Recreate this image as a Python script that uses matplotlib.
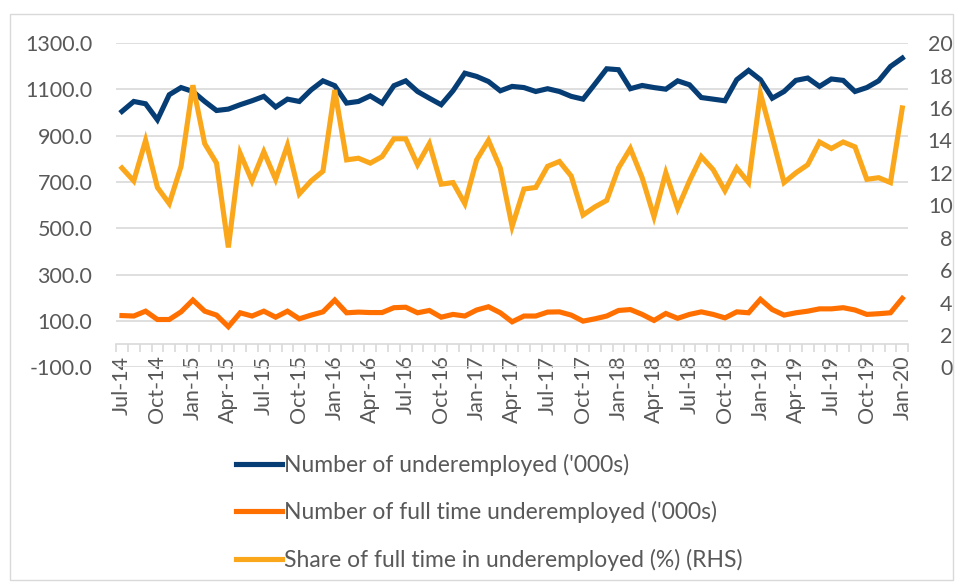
import matplotlib
matplotlib.use("Agg")
import matplotlib.pyplot as plt
from matplotlib.patches import Rectangle
from matplotlib.ticker import FormatStrFormatter, FixedLocator
import numpy as np
import pandas as pd

# meses Jul-14 .. Jan-20
months = pd.date_range("2014-07-01", "2020-01-01", freq="MS")
month_labels = [m.strftime("%b-%y") for m in months]

# Number of underemployed ('000s)
underemployed = [
    1005, 1048, 1038, 969, 1077, 1108, 1091, 1048, 1009, 1015,
    1034, 1051, 1070, 1024, 1058, 1048, 1098, 1137, 1116, 1041,
    1048, 1072, 1041, 1116, 1137, 1091, 1062, 1034, 1094, 1170,
    1156, 1134, 1094, 1113, 1108, 1091, 1103, 1091, 1070, 1058,
    1123, 1189, 1185, 1103, 1117, 1108, 1101, 1137, 1120, 1065,
    1058, 1051, 1142, 1182, 1142, 1062, 1091, 1139, 1149, 1113,
    1145, 1139, 1091, 1108, 1137, 1199, 1235,
]

# Number of full time underemployed ('000s)
full_time = [
    124, 122, 143, 107, 107, 140, 191, 143, 126, 76,
    136, 122, 143, 117, 143, 110, 126, 140, 191, 136,
    139, 137, 137, 158, 160, 136, 146, 117, 129, 122,
    148, 162, 136, 97, 122, 122, 139, 140, 126, 100,
    110, 122, 146, 150, 129, 103, 133, 112, 129, 140,
    129, 114, 140, 136, 194, 150, 126, 136, 143, 153,
    153, 158, 148, 129, 132, 136, 198,
]

# Share of full time in underemployed (%) (RHS)
share_ft = [
    12.3, 11.5, 14.0, 11.1, 10.1, 12.4, 17.4, 13.8, 12.6, 7.4,
    13.2, 11.5, 13.3, 11.6, 13.7, 10.7, 11.5, 12.1, 17.1, 12.8,
    12.9, 12.6, 13.0, 14.1, 14.1, 12.5, 13.8, 11.3, 11.4, 10.1,
    12.8, 14.0, 12.3, 8.7, 11.0, 11.1, 12.4, 12.7, 11.8, 9.4,
    9.9, 10.3, 12.3, 13.5, 11.7, 9.3, 12.0, 9.8, 11.5, 13.0,
    12.2, 10.9, 12.3, 11.4, 16.9, 14.2, 11.4, 12.0, 12.5, 13.9,
    13.5, 13.9, 13.6, 11.6, 11.7, 11.4, 16.0,
]

labels = [
    "Number of underemployed ('000s)",
    "Number of full time underemployed ('000s)",
    "Share of full time in underemployed (%) (RHS)",
]

c_blue = "#063D74"
c_orange = "#FF7000"
c_yellow = "#FBA71B"
c_grid = "#D9D9D9"
c_text = "#595959"

plt.rcParams["font.family"] = ["Lato", "DejaVu Sans"]

fig = plt.figure(figsize=(9.55, 5.82), dpi=100)
ax = fig.add_axes([0.1215, 0.3686, 0.8295, 0.5574])
x = np.arange(len(months))

ax.plot(x, underemployed, color=c_blue, lw=3.7, label=labels[0], solid_joinstyle="miter", zorder=3)
ax.plot(x, full_time, color=c_orange, lw=3.7, label=labels[1], solid_joinstyle="miter", zorder=3)

ax.set_xlim(-0.5, len(x) - 0.5)
ax.set_ylim(-100, 1300)
ax.set_yticks(np.arange(-100, 1301, 200))
ax.yaxis.set_major_formatter(FormatStrFormatter("%.1f"))
ax.grid(axis="y", color=c_grid, lw=1.2, zorder=0)
ax.set_axisbelow(True)

for s in ["top", "right", "left"]:
    ax.spines[s].set_visible(False)
ax.spines["bottom"].set_position(("data", 0))
ax.spines["bottom"].set_color(c_grid)
ax.spines["bottom"].set_linewidth(1.2)

# etiquetas cada 3 meses, marcas entre categorias
ax.set_xticks(x[::3])
ax.set_xticklabels(month_labels[::3], rotation=90)
ax.xaxis.set_minor_locator(FixedLocator(np.arange(-0.5, len(x), 1.0)))
ax.tick_params(axis="x", which="major", length=0, pad=8, labelsize=15.5, labelcolor=c_text)
ax.tick_params(axis="x", which="minor", length=6, width=1.2, color=c_grid, direction="out")
ax.tick_params(axis="y", length=0, pad=17, labelsize=15.5, labelcolor=c_text)

ax2 = ax.twinx()
ax2.plot(x, share_ft, color=c_yellow, lw=3.7, label=labels[2], solid_joinstyle="miter", zorder=3)
ax2.set_ylim(0, 20)
ax2.set_yticks(np.arange(0, 21, 2))
for s in ax2.spines.values():
    s.set_visible(False)
ax2.tick_params(axis="y", length=0, pad=32, labelsize=15.5, labelcolor=c_text)
for t in ax2.get_yticklabels():
    t.set_horizontalalignment("right")

h1, l1 = ax.get_legend_handles_labels()
h2, l2 = ax2.get_legend_handles_labels()
fig.legend(h1 + h2, l1 + l2, loc="upper left", bbox_to_anchor=(0.2475, 0.22),
           frameon=False, fontsize=16.5, labelcolor=c_text, handlelength=1.97,
           handletextpad=0.13, labelspacing=1.1, borderaxespad=0, borderpad=0)

# borde del grafico
fig.add_artist(Rectangle((10 / 955, 2 / 582), 943 / 955, 566 / 582, transform=fig.transFigure,
                         fill=False, edgecolor=c_grid, lw=1))

fig.savefig("out.png", dpi=100)
